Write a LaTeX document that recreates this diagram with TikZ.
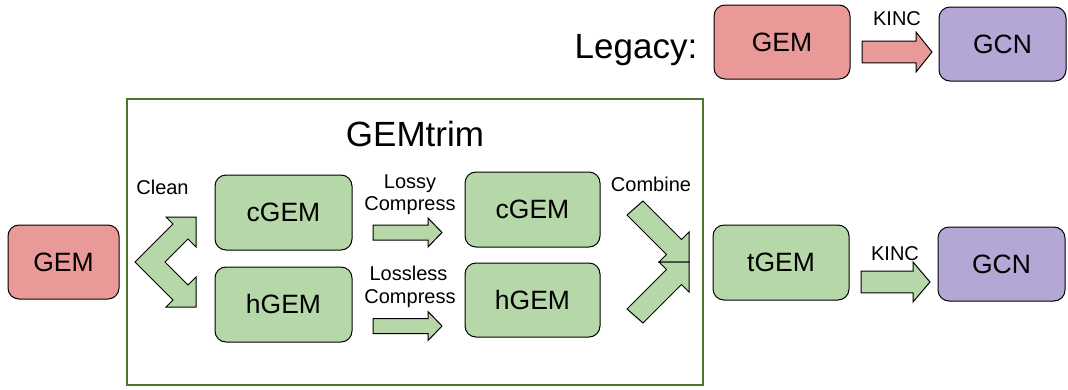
\documentclass[tikz,border=0pt]{standalone}
\usepackage{fontspec}
\setmainfont{Liberation Sans}
\usetikzlibrary{calc}
\definecolor{gemred}{HTML}{EA9999}
\definecolor{gemgreen}{HTML}{B6D7A8}
\definecolor{gempurple}{HTML}{B4A7D6}
\definecolor{framegreen}{RGB}{78,118,42}
\newcommand\hblock[7]{% x0, x1, xhead, cy, shaft half, head half, fill
  \draw[barrow, fill=#7] (#1,#4-#5) -- (#3,#4-#5) -- (#3,#4-#6) -- (#2,#4)
    -- (#3,#4+#6) -- (#3,#4+#5) -- (#1,#4+#5) -- cycle;}
\begin{document}
\begin{tikzpicture}[x=1pt,y=-1pt,
  box/.style={draw=black, line width=1pt, rounded corners=11pt, inner sep=0pt,
    font=\fontsize{26.5}{30}\selectfont},
  barrow/.style={draw=black, line width=1pt, line join=miter},
  lbl/.style={inner sep=0pt, font=\fontsize{20}{22}\selectfont, anchor=base},
  big/.style={inner sep=0pt, font=\fontsize{35}{40}\selectfont, anchor=base}]
\useasboundingbox (0,0) rectangle (1068,389);

% GEMtrim frame
\node[draw=framegreen, line width=1.2pt, minimum width=576pt, minimum height=286pt,
  inner sep=0pt] (frame) at (415,242) {};
\node[big] (title) at (415,146.7) {GEMtrim};

% Legacy row
\node[big] (legacy) at (636,58) {Legacy:};
\node[box, fill=gemred, minimum width=136pt, minimum height=74pt] (lgem) at (782,42) {GEM};
\node[box, fill=gempurple, minimum width=127pt, minimum height=74pt] (lgcn) at (1002.5,44) {GCN};
\hblock{862}{932}{916}{52}{10.8}{20}{gemred}
\node[lbl] (lkinc) at (897,25) {KINC};

% Main row
\node[box, fill=gemred, minimum width=111pt, minimum height=74pt] (gem) at (63.5,262) {GEM};
\node[box, fill=gemgreen, minimum width=137pt, minimum height=75pt] (c1) at (283.5,212.5) {cGEM};
\node[box, fill=gemgreen, minimum width=137pt, minimum height=75pt] (h1) at (283.5,304.5) {hGEM};
\node[box, fill=gemgreen, minimum width=135pt, minimum height=75pt] (c2) at (532.5,209.5) {cGEM};
\node[box, fill=gemgreen, minimum width=135pt, minimum height=74pt] (h2) at (532.5,300) {hGEM};
\node[box, fill=gemgreen, minimum width=136pt, minimum height=75pt] (tgem) at (781,262.5) {tGEM};
\node[box, fill=gempurple, minimum width=127pt, minimum height=74pt] (gcn) at (1001.5,264) {GCN};

% Clean split arrow
\draw[barrow, fill=gemgreen] (135,262) -- (173,224) -- (166,217) -- (196,217) -- (196,247)
  -- (188,239) -- (165,262) -- (188,285) -- (196,277) -- (196,307) -- (166,307)
  -- (173,300) -- cycle;
\node[lbl] (clean) at (162.5,194) {Clean};

% Compress arrows
\hblock{373}{442}{428}{232.5}{7.5}{14.5}{gemgreen}
\hblock{373}{442}{428}{326}{7.5}{14.5}{gemgreen}
\node[lbl] (lossy1) at (410,188.3) {Lossy};
\node[lbl] (lossy2) at (410,210) {Compress};
\node[lbl] (lossless1) at (408.5,280) {Lossless};
\node[lbl] (lossless2) at (410,303) {Compress};

% Combine arrows
\draw[barrow, fill=gemgreen] (627,215) -- (643,201) -- (681.5,239.5) -- (689,232) -- (689,262)
  -- (659,262) -- (666.5,254.5) -- cycle;
\draw[barrow, fill=gemgreen] (627,309) -- (643,323) -- (681.5,284.5) -- (689,292) -- (689,262)
  -- (659,262) -- (666.5,269.5) -- cycle;
\node[lbl] (combine) at (651,191.7) {Combine};

% KINC arrow
\hblock{861}{930}{913}{282}{10.8}{20}{gemgreen}
\node[lbl] (kinc) at (895,260) {KINC};
\end{tikzpicture}
\end{document}
